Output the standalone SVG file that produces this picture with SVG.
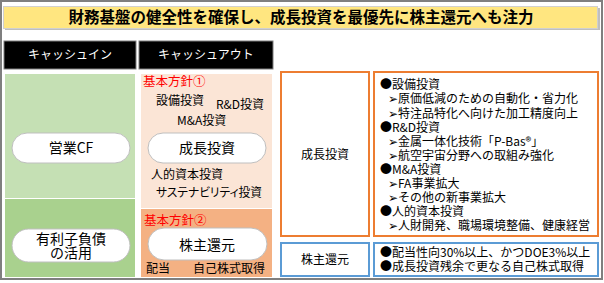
<svg xmlns="http://www.w3.org/2000/svg" width="604" height="283" viewBox="0 0 604 283">
<style>
text{font-family:"Noto Sans CJK JP","Noto Sans",sans-serif;fill:#000;}
.t12{font-size:12px;}
.t14{font-size:14px;}
.hd{font-size:12px;fill:#fff;text-anchor:middle;}
.red{font-size:12.5px;fill:#FF0000;}
.mid{text-anchor:middle;}
.pill{fill:#fff;stroke:#BFBFBF;stroke-width:1;}
.ob{fill:#fff;stroke:#ED7D31;stroke-width:2;}
.bb{fill:#fff;stroke:#5B9BD5;stroke-width:2;}
.palt{font-feature-settings:"palt";}
</style>
<rect x="1" y="1" width="601" height="278" fill="#fff" stroke="#7F7F7F" stroke-width="2"/>
<g id="title">
<rect x="5" y="8" width="595" height="22" fill="#BFBFBF"/>
<rect x="3.5" y="6.5" width="594" height="22" fill="#FFE680" stroke="#D0D0D0" stroke-width="1"/>
<text x="301" y="23" style="font-size:15.5px;font-weight:bold;text-anchor:middle">財務基盤の健全性を確保し、成長投資を最優先に株主還元へも注力</text>
</g>
<g id="header-in">
<rect x="4" y="41" width="132" height="28" fill="#000" stroke="#7F7F7F" stroke-width="1"/>
<text class="hd" x="70" y="59.3">キャッシュイン</text>
</g>
<g id="header-out">
<rect x="139" y="41" width="134" height="28" fill="#000" stroke="#7F7F7F" stroke-width="1"/>
<text class="hd" x="206" y="59.3">キャッシュアウト</text>
</g>
<g id="cash-in-panel">
<rect x="5" y="74" width="130" height="124" fill="#C5E0B4"/>
<rect x="5" y="199" width="130" height="78" fill="#A9D18E"/>
</g>
<g id="cash-out-panel">
<rect x="141" y="74" width="131" height="134" fill="#FBE5D6"/>
<rect x="141" y="209" width="131" height="68" fill="#F4B183"/>
<text class="red" x="143" y="85.5">基本方針①</text>
<text class="t12" x="156" y="105.3">設備投資</text>
<text class="t12" x="216" y="109.3">R&amp;D投資</text>
<text class="t12" x="177" y="125.3">M&amp;A投資</text>
<text class="t12" x="151" y="179.3">人的資本投資</text>
<text class="t12 palt" x="156" y="197.3" textLength="106" lengthAdjust="spacingAndGlyphs">サステナビリティ投資</text>
<text class="red" x="144" y="224.5">基本方針②</text>
<text class="t12" x="146" y="273.3">配当</text>
<text class="t12" x="193" y="273.3">自己株式取得</text>
</g>
<g id="node-eigyo-cf">
<rect class="pill" x="12" y="133" width="118" height="30" rx="15"/>
<text class="t14 mid" x="71" y="153">営業CF</text>
</g>
<g id="node-debt">
<rect class="pill" x="12" y="229" width="118" height="33" rx="16.5"/>
<text class="t14 mid" x="71" y="243.5">有利子負債</text>
<text class="t14 mid" x="71" y="258">の活用</text>
</g>
<g id="node-growth">
<rect class="pill" x="148" y="133" width="118" height="30" rx="15"/>
<text class="t14 mid" x="207" y="153">成長投資</text>
</g>
<g id="node-return">
<rect class="pill" x="148" y="228" width="119" height="32" rx="16"/>
<text class="t14 mid" x="207" y="250">株主還元</text>
</g>
<g id="growth-label">
<rect class="ob" x="281" y="72" width="88" height="164"/>
<text class="t12 mid" x="325" y="159.3">成長投資</text>
</g>
<g id="growth-detail">
<rect class="ob" x="374" y="72" width="224" height="164"/>
<text class="t12" x="380" y="89.3">●設備投資</text>
<text class="t12" x="388" y="103.4">➢原価低減のための自動化・省力化</text>
<text class="t12" x="388" y="117.5">➢特注品特化へ向けた加工精度向上</text>
<text class="t12" x="380" y="131.6">●R&amp;D投資</text>
<text class="t12" x="388" y="145.7">➢金属一体化技術「P-Bas®」</text>
<text class="t12" x="388" y="159.8">➢航空宇宙分野への取組み強化</text>
<text class="t12" x="380" y="173.9">●M&amp;A投資</text>
<text class="t12" x="388" y="188">➢FA事業拡大</text>
<text class="t12" x="388" y="202.1">➢その他の新事業拡大</text>
<text class="t12" x="380" y="216.2">●人的資本投資</text>
<text class="t12" x="388" y="230.3">➢人財開発、職場環境整備、健康経営</text>
</g>
<g id="return-label">
<rect class="bb" x="281" y="243" width="88" height="33"/>
<text class="t12 mid" x="325" y="264">株主還元</text>
</g>
<g id="return-detail">
<rect class="bb" x="374" y="243" width="224" height="33"/>
<text class="t12" x="380" y="257.3">●配当性向30%以上、かつDOE3%以上</text>
<text class="t12" x="380" y="270.5">●成長投資残余で更なる自己株式取得</text>
</g>
<g id="connectors"></g>
</svg>
